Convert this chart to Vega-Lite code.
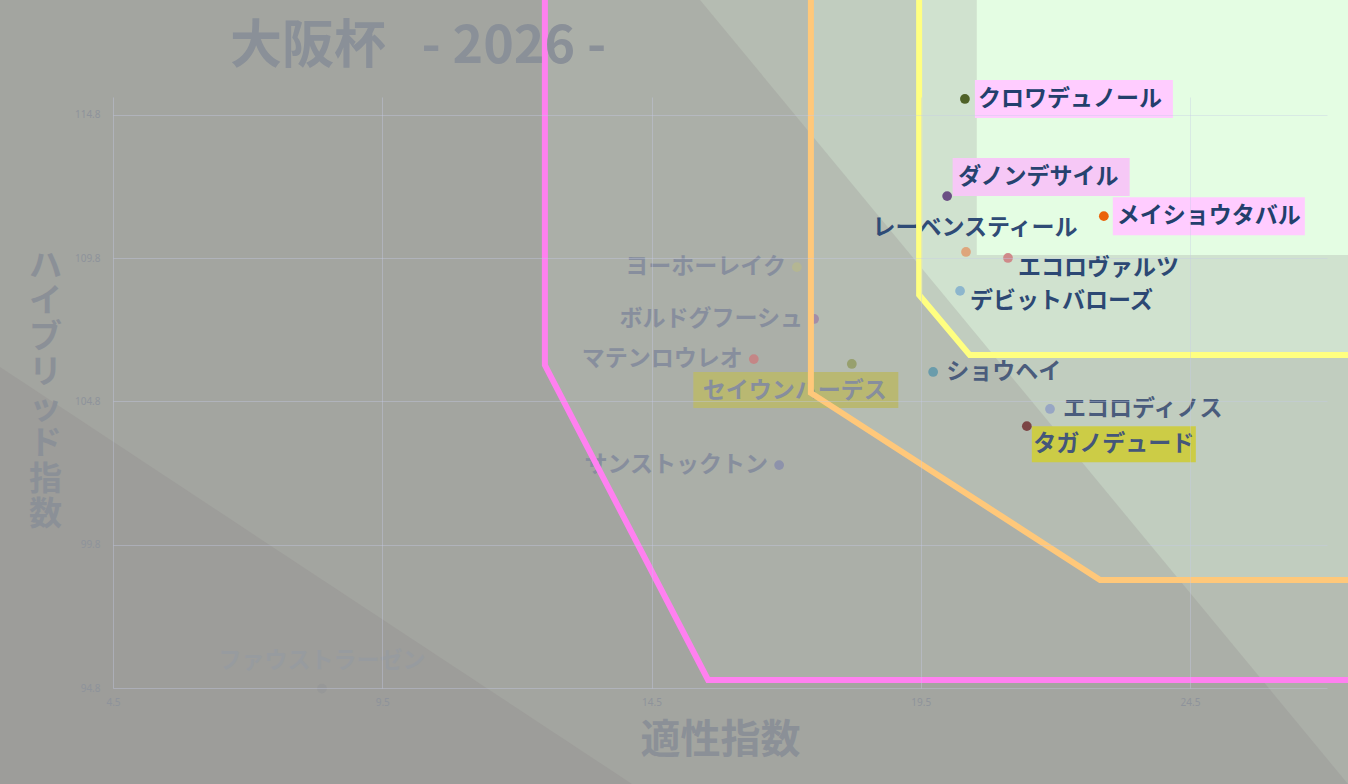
{
  "$schema": "https://vega.github.io/schema/vega-lite/v6.json",
  "description": "大阪杯 2026: 適性指数 vs ハイブリッド指数",
  "autosize": {"type": "none"},
  "padding": {"left": 113, "top": 97, "right": 21, "bottom": 96},
  "width": 1214,
  "height": 591,
  "background": "#e4fde3",
  "config": {
    "view": {"stroke": null},
    "axis": {
      "grid": true,
      "gridColor": "#c4cbe8",
      "gridOpacity": 0.38,
      "domain": false,
      "ticks": false,
      "tickSize": 0,
      "labelFlush": false,
      "labelFont": "Noto Sans",
      "labelFontSize": 10,
      "labelColor": "#8e939b",
      "titleFont": "Noto Sans CJK JP",
      "titleFontWeight": "bold",
      "titleColor": "#8b9097"
    }
  },
  "title": {
    "text": "大阪杯\u00a0\u00a0 - 2026 -",
    "anchor": "start",
    "frame": "group",
    "dx": 117,
    "offset": -132,
    "baseline": "alphabetic",
    "font": "Noto Sans CJK JP",
    "fontSize": 52,
    "fontWeight": "bold",
    "color": "#8a9098"
  },
  "datasets": {
    "horses": [
      {"name": "クロワデュノール", "x": 20.32, "y": 115.36},
      {"name": "ダノンデサイル", "x": 19.99, "y": 111.97},
      {"name": "メイショウタバル", "x": 22.9, "y": 111.27},
      {"name": "レーベンスティール", "x": 20.34, "y": 110.02},
      {"name": "エコロヴァルツ", "x": 21.12, "y": 109.81},
      {"name": "デビットバローズ", "x": 20.23, "y": 108.66},
      {"name": "ヨーホーレイク", "x": 17.2, "y": 109.49},
      {"name": "ボルドグフーシュ", "x": 17.52, "y": 107.68},
      {"name": "マテンロウレオ", "x": 16.4, "y": 106.28},
      {"name": "セイウンハーデス", "x": 18.22, "y": 106.11},
      {"name": "ショウヘイ", "x": 19.73, "y": 105.83},
      {"name": "エコロディノス", "x": 21.9, "y": 104.54},
      {"name": "タガノデュード", "x": 21.47, "y": 103.94},
      {"name": "サンストックトン", "x": 16.87, "y": 102.58},
      {"name": "ファウストラーゼン", "x": 8.38, "y": 94.78}
    ],
    "shades": [
      {"poly": "o1", "i": 1, "x": 2, "y": 119},
      {"poly": "o1", "i": 2, "x": 20.54, "y": 119},
      {"poly": "o1", "i": 3, "x": 20.54, "y": 109.91},
      {"poly": "o1", "i": 4, "x": 28, "y": 109.91},
      {"poly": "o1", "i": 5, "x": 28, "y": 91},
      {"poly": "o1", "i": 6, "x": 2, "y": 91},
      {"poly": "o2", "i": 1, "x": 2, "y": 119},
      {"poly": "o2", "i": 2, "x": 19.47, "y": 119},
      {"poly": "o2", "i": 3, "x": 19.47, "y": 108.52},
      {"poly": "o2", "i": 4, "x": 20.41, "y": 106.42},
      {"poly": "o2", "i": 5, "x": 28, "y": 106.42},
      {"poly": "o2", "i": 6, "x": 28, "y": 91},
      {"poly": "o2", "i": 7, "x": 2, "y": 91},
      {"poly": "o3", "i": 1, "x": 2, "y": 119},
      {"poly": "o3", "i": 2, "x": 17.46, "y": 119},
      {"poly": "o3", "i": 3, "x": 17.46, "y": 105.1},
      {"poly": "o3", "i": 4, "x": 22.83, "y": 98.57},
      {"poly": "o3", "i": 5, "x": 28, "y": 98.57},
      {"poly": "o3", "i": 6, "x": 28, "y": 91},
      {"poly": "o3", "i": 7, "x": 2, "y": 91},
      {"poly": "o4", "i": 1, "x": 2, "y": 119},
      {"poly": "o4", "i": 2, "x": 12.52, "y": 119},
      {"poly": "o4", "i": 3, "x": 12.52, "y": 106.07},
      {"poly": "o4", "i": 4, "x": 15.55, "y": 95.08},
      {"poly": "o4", "i": 5, "x": 28, "y": 95.08},
      {"poly": "o4", "i": 6, "x": 28, "y": 91},
      {"poly": "o4", "i": 7, "x": 2, "y": 91},
      {"poly": "o5", "i": 1, "x": 2, "y": 119},
      {"poly": "o5", "i": 2, "x": 15.32, "y": 119},
      {"poly": "o5", "i": 3, "x": 27.63, "y": 91},
      {"poly": "o5", "i": 4, "x": 2, "y": 91},
      {"poly": "o6", "i": 1, "x": 2, "y": 106.5},
      {"poly": "o6", "i": 2, "x": 14.5, "y": 91},
      {"poly": "o6", "i": 3, "x": 2, "y": 91}
    ],
    "bounds": [
      {"line": "pink", "i": 1, "x": 12.52, "y": 119},
      {"line": "pink", "i": 2, "x": 12.52, "y": 106.07},
      {"line": "pink", "i": 3, "x": 15.55, "y": 95.08},
      {"line": "pink", "i": 4, "x": 28, "y": 95.08},
      {"line": "orange", "i": 1, "x": 17.46, "y": 119},
      {"line": "orange", "i": 2, "x": 17.46, "y": 105.1},
      {"line": "orange", "i": 3, "x": 22.83, "y": 98.57},
      {"line": "orange", "i": 4, "x": 28, "y": 98.57},
      {"line": "yellow", "i": 1, "x": 19.47, "y": 119},
      {"line": "yellow", "i": 2, "x": 19.47, "y": 108.52},
      {"line": "yellow", "i": 3, "x": 20.41, "y": 106.42},
      {"line": "yellow", "i": 4, "x": 28, "y": 106.42}
    ]
  },
  "encoding": {
    "x": {
      "field": "x",
      "type": "quantitative",
      "scale": {"domain": [4.5, 27.044], "nice": false, "zero": false},
      "axis": {
        "zindex": 1,
        "values": [4.5, 9.5, 14.5, 19.5, 24.5],
        "format": ".1f",
        "labelPadding": 9,
        "title": "適性指数",
        "titleFontSize": 40,
        "titleX": 607,
        "titleY": 52,
        "titleAlign": "center",
        "titleBaseline": "middle"
      }
    },
    "y": {
      "field": "y",
      "type": "quantitative",
      "scale": {"domain": [94.8, 115.428], "nice": false, "zero": false},
      "axis": {
        "zindex": 1,
        "values": [94.8, 99.8, 104.8, 109.8, 114.8],
        "format": ".1f",
        "labelPadding": 13,
        "title": ["ハ", "イ", "ブ", "リ", "ッ", "ド", "指", "数"],
        "titleAngle": 0,
        "titleFontSize": 33,
        "titleLineHeight": 35.5,
        "titleX": -68,
        "titleY": 153,
        "titleAlign": "center",
        "titleBaseline": "top"
      }
    }
  },
  "layer": [
    {
      "data": {"name": "shades"},
      "mark": {"type": "line", "filled": true, "color": "#877f85", "opacity": 0.21},
      "encoding": {
        "detail": {"field": "poly"},
        "order": {"field": "i", "type": "quantitative"}
      }
    },
    {
      "data": {"name": "horses"},
      "transform": [{"filter": "datum.name == 'クロワデュノール'"}],
      "mark": {"type": "rect", "color": "#ffccff", "width": 198, "height": 38, "xOffset": 109, "yOffset": 0}
    },
    {
      "data": {"name": "horses"},
      "transform": [{"filter": "datum.name == 'ダノンデサイル'"}],
      "mark": {"type": "rect", "color": "#f6c8f6", "width": 177, "height": 38, "xOffset": 94, "yOffset": -19}
    },
    {
      "data": {"name": "horses"},
      "transform": [{"filter": "datum.name == 'メイショウタバル'"}],
      "mark": {"type": "rect", "color": "#ffccff", "width": 192, "height": 38, "xOffset": 105, "yOffset": 0}
    },
    {
      "data": {"name": "horses"},
      "transform": [{"filter": "datum.name == 'セイウンハーデス'"}],
      "mark": {"type": "rect", "color": "#b9b872", "width": 205, "height": 36, "xOffset": -56, "yOffset": 26}
    },
    {
      "data": {"name": "horses"},
      "transform": [{"filter": "datum.name == 'タガノデュード'"}],
      "mark": {"type": "rect", "color": "#cccc46", "width": 164, "height": 36, "xOffset": 87, "yOffset": 18}
    },
    {
      "data": {"name": "horses"},
      "mark": {"type": "circle", "size": 95, "opacity": 1},
      "encoding": {
        "color": {
          "field": "name",
          "type": "nominal",
          "legend": null,
          "scale": {
            "domain": ["クロワデュノール", "ダノンデサイル", "メイショウタバル", "レーベンスティール", "エコロヴァルツ", "デビットバローズ", "ヨーホーレイク", "ボルドグフーシュ", "マテンロウレオ", "セイウンハーデス", "ショウヘイ", "エコロディノス", "タガノデュード", "サンストックトン", "ファウストラーゼン"],
            "range": ["#4f6228", "#6b4f84", "#eb6209", "#dea57c", "#cf8a8a", "#8db6cd", "#b4b693", "#a48ea8", "#c48686", "#97a06e", "#6a9cab", "#97a6c4", "#7c4545", "#8d92ab", "#979898"]
          }
        }
      }
    },
    {
      "data": {"name": "horses"},
      "transform": [{"filter": {"field": "name", "oneOf": ["クロワデュノール", "メイショウタバル", "ショウヘイ", "エコロディノス"]}}],
      "mark": {"type": "text", "align": "left", "baseline": "middle", "dx": 13, "dy": 0, "font": "Noto Sans CJK JP", "fontSize": 23, "fontWeight": "bold"},
      "encoding": {
        "text": {"field": "name"},
        "color": {
          "condition": [
            {"test": "datum.x >= 19.4 && datum.y >= 106.4", "value": "#223f6c"},
            {"test": "datum.x >= 19", "value": "#4a5c7c"}
          ],
          "value": "#878e9d"
        }
      }
    },
    {
      "data": {"name": "horses"},
      "transform": [{"filter": {"field": "name", "oneOf": ["エコロヴァルツ", "デビットバローズ"]}}],
      "mark": {"type": "text", "align": "left", "baseline": "middle", "dx": 10, "dy": 10, "font": "Noto Sans CJK JP", "fontSize": 23, "fontWeight": "bold", "color": "#2c4874"},
      "encoding": {"text": {"field": "name"}}
    },
    {
      "data": {"name": "horses"},
      "transform": [{"filter": {"field": "name", "oneOf": ["ヨーホーレイク", "ボルドグフーシュ", "マテンロウレオ", "サンストックトン"]}}],
      "mark": {"type": "text", "align": "right", "baseline": "middle", "dx": -11, "dy": 0, "font": "Noto Sans CJK JP", "fontSize": 23, "fontWeight": "bold", "color": "#878e9d"},
      "encoding": {"text": {"field": "name"}}
    },
    {
      "data": {"name": "horses"},
      "transform": [{"filter": "datum.name == 'ダノンデサイル'"}],
      "mark": {"type": "text", "align": "left", "baseline": "middle", "dx": 11, "dy": -19, "font": "Noto Sans CJK JP", "fontSize": 23, "fontWeight": "bold", "color": "#26426f"},
      "encoding": {"text": {"field": "name"}}
    },
    {
      "data": {"name": "horses"},
      "transform": [{"filter": "datum.name == 'レーベンスティール'"}],
      "mark": {"type": "text", "align": "center", "baseline": "middle", "dx": 9, "dy": -24, "font": "Noto Sans CJK JP", "fontSize": 23, "fontWeight": "bold", "color": "#2f4b76"},
      "encoding": {"text": {"field": "name"}}
    },
    {
      "data": {"name": "horses"},
      "transform": [{"filter": "datum.name == 'ファウストラーゼン'"}],
      "mark": {"type": "text", "align": "center", "baseline": "middle", "dx": 0, "dy": -28, "font": "Noto Sans CJK JP", "fontSize": 23, "fontWeight": "bold", "color": "#979b9f"},
      "encoding": {"text": {"field": "name"}}
    },
    {
      "data": {"name": "horses"},
      "transform": [{"filter": "datum.name == 'セイウンハーデス'"}],
      "mark": {"type": "text", "align": "center", "baseline": "middle", "dx": -57, "dy": 27, "font": "Noto Sans CJK JP", "fontSize": 23, "fontWeight": "bold", "color": "#878e9d"},
      "encoding": {"text": {"field": "name"}}
    },
    {
      "data": {"name": "horses"},
      "transform": [{"filter": "datum.name == 'タガノデュード'"}],
      "mark": {"type": "text", "align": "center", "baseline": "middle", "dx": 87, "dy": 18, "font": "Noto Sans CJK JP", "fontSize": 23, "fontWeight": "bold", "color": "#44567a"},
      "encoding": {"text": {"field": "name"}}
    },
    {
      "data": {"name": "bounds"},
      "mark": {"type": "line", "strokeWidth": 6, "strokeJoin": "miter", "strokeCap": "butt"},
      "encoding": {
        "order": {"field": "i", "type": "quantitative"},
        "color": {
          "field": "line",
          "type": "nominal",
          "legend": null,
          "scale": {"domain": ["pink", "orange", "yellow"], "range": ["#ff80f0", "#ffc87a", "#ffff80"]}
        }
      }
    }
  ],
  "resolve": {"scale": {"color": "independent"}}
}
